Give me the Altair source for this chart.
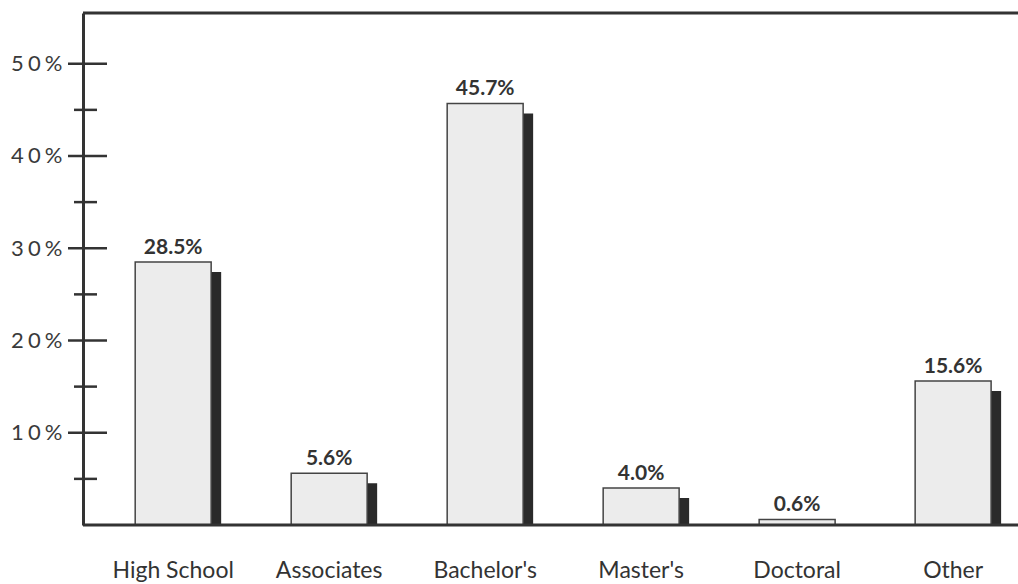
import altair as alt
import pandas as pd

# Highest level of education, share of respondents
categories = ["High School", "Associates", "Bachelor's", "Master's", "Doctoral", "Other"]
shares = [28.5, 5.6, 45.7, 4.0, 0.6, 15.6]
major_ticks = [10, 20, 30, 40, 50]
minor_ticks = [5, 15, 25, 35, 45]

W, H = 935, 512
FONT = "Lato"
INK = "#333333"

df = pd.DataFrame({"category": categories, "share": shares})
major = pd.DataFrame({"share": major_ticks})
minor = pd.DataFrame({"share": minor_ticks})
one = pd.DataFrame({"k": [0]})

yscale = alt.Scale(domain=[0, 55.5], nice=False, zero=True)
xscale = alt.Scale(domain=categories, paddingInner=0.513, paddingOuter=0.2535, align=0.66)

yaxis = alt.Axis(
    values=major_ticks,
    ticks=False,
    grid=False,
    domain=True,
    domainColor=INK,
    domainWidth=3,
    labelPadding=21,
    labelFont=FONT,
    labelFontSize=22,
    labelColor="#3a3a3a",
    labelExpr="join(split(datum.value + '%', ''), '\u2009\u200a')",
    title=None,
)
xaxis = alt.Axis(
    domain=False,
    ticks=False,
    grid=False,
    labelAngle=0,
    labelPadding=34,
    labelFont=FONT,
    labelFontSize=23,
    labelColor="#333333",
    title=None,
)

base = alt.Chart(df).encode(
    x=alt.X("category:N", scale=xscale, axis=xaxis),
    y=alt.Y("share:Q", scale=yscale, axis=yaxis),
)

# dark drop shadow behind each bar
shadow = base.mark_bar(color="#2a2a2a", xOffset=10, yOffset=10, clip=True)
bars = base.mark_bar(fill="#ececec", stroke="#444444", strokeWidth=1.5)
labels = base.transform_calculate(
    lbl="format(datum.share, '.1f') + '%'"
).mark_text(
    baseline="alphabetic", dy=-8, font=FONT, fontSize=21, fontWeight="bold", color=INK
).encode(text="lbl:N")

# ticks crossing the vertical axis
major_rules = alt.Chart(major).mark_rule(color=INK, strokeWidth=2.5).encode(
    y=alt.Y("share:Q", scale=yscale, axis=yaxis), x=alt.value(-15), x2=alt.value(24)
)
minor_rules = alt.Chart(minor).mark_rule(color=INK, strokeWidth=2.5).encode(
    y=alt.Y("share:Q", scale=yscale, axis=yaxis), x=alt.value(-9), x2=alt.value(14)
)

top_line = alt.Chart(one).mark_rule(color=INK, strokeWidth=3).encode(
    x=alt.value(0), x2=alt.value(W), y=alt.value(0)
)
base_line = alt.Chart(one).mark_rule(color=INK, strokeWidth=3).encode(
    x=alt.value(0), x2=alt.value(W), y=alt.value(H)
)

chart = alt.layer(
    shadow, bars, base_line, labels, major_rules, minor_rules, top_line
).properties(
    width=W,
    height=H,
    padding={"left": 83, "top": 13, "right": 0, "bottom": 59},
    autosize=alt.AutoSizeParams(type="none"),
    background="white",
).configure_view(stroke=None)

chart.save("out.html", embed_options={"renderer": "svg", "actions": False})
